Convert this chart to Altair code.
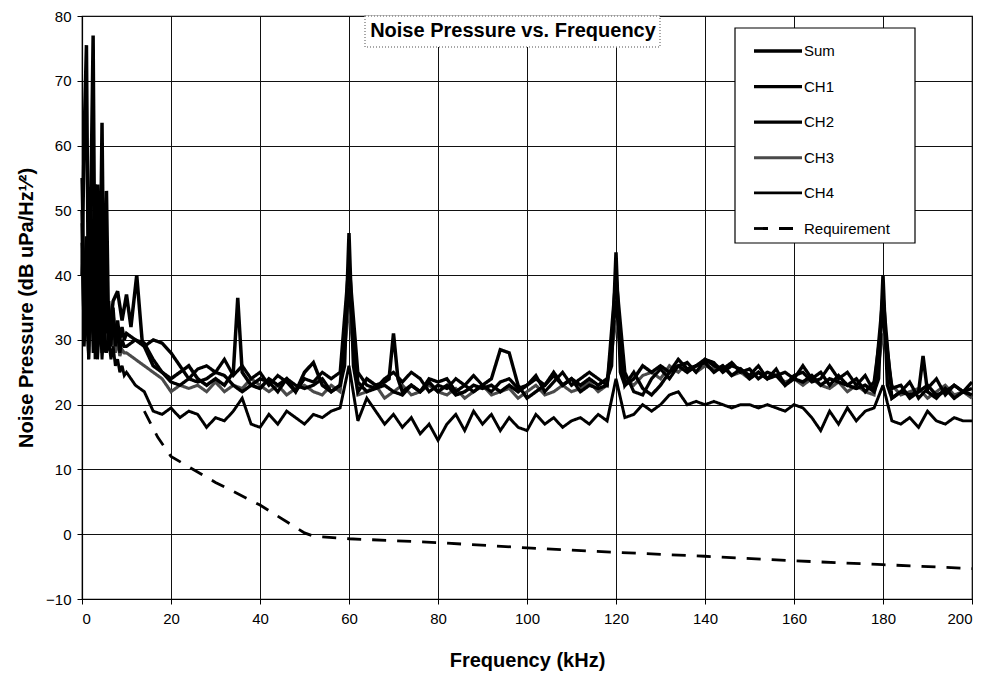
import altair as alt
import pandas as pd

SERIES = ["Sum", "CH1", "CH2", "CH3", "CH4", "Requirement"]

# Frequency grids (kHz)
LOW_F = [0, 0.5, 1, 1.5, 2, 2.5, 3, 3.5, 4, 4.5, 5, 5.5, 6, 6.5, 7, 7.5, 8, 8.5, 9, 9.5]
MAIN_F = list(range(10, 201, 2))

# Channel values (dB): low band 0..9.5 kHz, then 10..200 kHz every 2 kHz
CH1_LOW = [50, 30, 46, 28, 52, 33, 48, 29, 50, 35, 44, 31, 36, 30, 34, 29, 33, 30, 32, 30]
CH1 = [31, 30, 29, 30, 29.5, 28, 26, 24,
       23.5, 24, 25, 24.5, 23, 22, 23, 24, 23.5, 22,
       24, 23, 22.5, 23, 24, 22, 23, 38, 23.5, 22,
       22.5, 23, 22, 21.5, 23, 22, 24, 23.5, 24, 22,
       23, 22, 23, 24, 28.5, 28, 23, 21, 22, 23,
       25, 23, 24, 22, 23, 22.5, 23, 36, 23, 25,
       22.5, 21.5, 23, 25, 27, 25.5, 26, 27, 26, 25.5,
       26.5, 25, 25.5, 24, 25, 24.5, 25, 24, 26, 24,
       25, 23, 24.5, 23, 24, 22, 23.5, 34, 22.5, 23,
       21, 22, 23, 21.5, 22, 23, 22, 22.5]

CH2_LOW = [55, 35, 42, 27, 47, 31, 54, 30, 45, 28, 40, 32, 33, 29, 35, 30, 31, 28, 30, 29]
CH2 = [29, 30, 29.5, 27, 25, 23.5, 23, 24,
       25.5, 26, 25, 27, 24.5, 26, 24, 25, 23, 24.5,
       23.5, 22, 24, 23.5, 25, 24, 25, 42, 25, 23,
       22.5, 24, 25, 23.5, 25, 24, 22, 23, 22.5, 24,
       23, 24.5, 23, 22, 23.5, 24, 22.5, 23, 24.5, 22,
       23.5, 25, 23, 24, 25, 24, 23, 40, 25, 22,
       21.5, 24, 25.5, 24, 26, 26.5, 25, 27, 26.5, 25,
       26, 25.5, 24.5, 26, 24, 25.5, 23, 24.5, 25, 23.5,
       24, 26, 24, 25, 23, 24.5, 22, 37, 21, 22,
       23.5, 21, 22.5, 24, 21.5, 23, 22, 23.5]

CH3_LOW = [48, 33, 38, 29, 44, 30, 41, 28, 39, 31, 36, 30, 32, 29, 31, 28, 30, 27.5, 28.5, 28]
CH3 = [28, 27, 26, 25, 24, 22, 23, 22.5,
       23, 22, 23.5, 22, 23, 22.5, 24, 23, 22, 23,
       21.5, 22.5, 23, 22, 21.5, 23, 22, 35, 21.5, 22,
       23, 21, 22, 23, 21.5, 22, 23, 22, 21.5, 22.5,
       21, 22, 23, 21.5, 22, 22.5, 21, 22, 23, 21.5,
       22, 23, 22, 22.5, 23.5, 22, 23, 33, 24, 23,
       24.5, 25, 24, 26, 25, 26.5, 25, 26, 25.5, 26,
       24.5, 25, 24, 25, 24, 24.5, 23.5, 24, 23, 24,
       23, 22.5, 23.5, 22, 23, 22, 21.5, 31, 23, 21.5,
       22, 22.5, 21, 22, 23, 21.5, 22, 21]

CH4_LOW = [45, 29, 36, 27, 40, 28, 37, 27, 34, 27, 32, 28, 30, 27, 29, 26, 27, 25, 26, 24.5]
CH4 = [25, 23, 22, 19, 18.5, 19.5, 18, 19,
       18.5, 16.5, 18, 17.5, 19, 21, 17, 16.5, 18.5, 17,
       19, 18, 17, 18.5, 18, 19, 19.5, 26, 17.5, 21,
       19, 17, 18.5, 16.5, 18, 15.5, 17, 14.5, 17, 18.5,
       16, 19, 17, 18.5, 16, 18, 16.5, 16, 18.5, 17,
       18, 16.5, 17.5, 18, 17, 18.5, 17.5, 24, 18, 18.5,
       20, 19, 20, 21.5, 22, 20, 20.5, 20, 20.5, 20,
       19.5, 20, 20, 19.5, 20, 19.5, 19, 20, 19.5, 18,
       16, 19, 17, 19.5, 17.5, 19, 19.5, 23, 17.5, 17,
       18, 16.5, 19, 17.5, 17, 18, 17.5, 17.5]

SUM_F = [0, 0.5, 1, 1.5, 2, 2.5, 3, 3.5, 4, 4.5, 5, 5.5,
         6, 7, 8, 9, 10, 11, 12.3, 13.5, 14, 16, 18, 20,
         22, 24, 26, 28, 30, 32, 34, 35, 36,
         38, 40, 42, 44, 46, 48, 50, 52, 54, 56, 58, 59, 60, 61,
         62, 64, 66, 68, 69, 70, 71,
         72, 74, 76, 78, 80, 82, 84, 86, 88, 90, 92, 94, 96, 98, 100,
         102, 104, 106, 108, 110, 112, 114, 116, 118, 119, 120, 121,
         122, 124, 126, 128, 130, 132, 134, 136, 138, 140, 142, 144, 146, 148, 150,
         152, 154, 156, 158, 160, 162, 164, 166, 168, 170, 172, 174, 176, 178,
         179, 180, 181, 182, 184, 186, 188, 189, 190, 192, 194, 196, 198, 200]
SUM_V = [40, 62, 75.5, 30, 52, 77, 27, 54, 35, 63.5, 28, 53,
         30, 36, 37.5, 33, 37, 32, 40, 30, 29, 26, 25, 24,
         25, 26, 24, 23, 24, 23, 25, 36.5, 25,
         23, 22.5, 24, 23, 24, 22, 25, 26.5, 23, 22, 23, 26, 46.5, 26,
         22, 24, 23, 23.5, 24, 31, 24,
         22, 23, 22, 23.5, 22, 23, 21.5, 22, 23, 22.5, 23, 22, 23, 22, 23,
         24, 23, 24.5, 23, 24, 23, 24, 23, 24, 26, 43.5, 25,
         23, 24, 26, 25, 26, 25, 26, 25, 26, 26.5, 25, 26, 24.5, 25.5, 24,
         25, 24, 24.5, 23, 24, 23.5, 24.5, 23, 24, 23.5, 23, 22.5, 23, 22,
         24, 40, 23, 21, 22, 21.5, 22, 27.5, 22, 21, 22.5, 21, 22, 21.5]

REQ_F = [14, 17, 20, 30, 40, 50, 52, 60, 80, 100, 120, 140, 160, 180, 200]
REQ_V = [19, 15, 12, 8, 4.5, 0.2, -0.3, -0.7, -1.3, -2.1, -2.8, -3.4, -4.1, -4.7, -5.3]

rows = []
def add(name, fs, vs):
    assert len(fs) == len(vs), (name, len(fs), len(vs))
    for f, v in zip(fs, vs):
        rows.append({"series": name, "freq": f, "db": v})

add("Requirement", REQ_F, REQ_V)
add("CH3", LOW_F + MAIN_F, CH3_LOW + CH3)
add("CH4", LOW_F + MAIN_F, CH4_LOW + CH4)
add("CH2", LOW_F + MAIN_F, CH2_LOW + CH2)
add("CH1", LOW_F + MAIN_F, CH1_LOW + CH1)
add("Sum", SUM_F, SUM_V)
df = pd.DataFrame(rows)

FONT = "Liberation Sans"

leg = alt.Legend(
    orient="none", legendX=670, legendY=9, title=None,
    symbolType="stroke", symbolSize=2304, labelFontSize=15, labelFont=FONT,
    labelColor="black", labelOffset=0, rowPadding=1.6, padding=0,
    labelLimit=200,
)

lines = alt.Chart(df).mark_line(strokeJoin="miter", strokeMiterLimit=3).encode(
    x=alt.X("freq:Q", scale=alt.Scale(domain=[0, 200], nice=False),
            axis=alt.Axis(values=list(range(0, 201, 20)), title="Frequency (kHz)")),
    y=alt.Y("db:Q", scale=alt.Scale(domain=[-10, 80], nice=False),
            axis=alt.Axis(values=list(range(-10, 81, 10)),
                          title="Noise Pressure (dB uPa/Hz\u00b9\u2044\u00b2)")),
    color=alt.Color("series:N", scale=alt.Scale(domain=SERIES,
                    range=["#000000", "#000000", "#000000", "#4a4a4a", "#000000", "#000000"]),
                    legend=leg),
    strokeWidth=alt.StrokeWidth("series:N", scale=alt.Scale(domain=SERIES,
                    range=[3.5, 2.8, 3.2, 1.3, 2.9, 2.2]), legend=leg),
    strokeDash=alt.StrokeDash("series:N", scale=alt.Scale(domain=SERIES,
                    range=[[1, 0], [1, 0], [1, 0], [1, 0], [1, 0], [14, 11]]), legend=leg),
    detail="series:N",
)

one = alt.Data(values=[{"t": 1}])
legend_box = alt.Chart(one).mark_rect(fill="white", stroke="black", strokeWidth=1.2).encode(
    x=alt.value(653), x2=alt.value(833), y=alt.value(12), y2=alt.value(227))
title_box = alt.Chart(one).mark_rect(fill="white", stroke="#8a8a8a",
                                      strokeDash=[1, 2], strokeWidth=1.5).encode(
    x=alt.value(283), x2=alt.value(578), y=alt.value(0), y2=alt.value(31))
title_txt = alt.Chart(one).mark_text(font=FONT, fontSize=20, fontWeight="bold",
                                      color="black", align="center", baseline="middle").encode(
    x=alt.value(431), y=alt.value(15), text=alt.value("Noise Pressure vs. Frequency"))

chart = alt.layer(legend_box, title_box, lines, title_txt).properties(
    width=890, height=583,
    padding={"left": 74, "top": 8, "right": 7, "bottom": 75},
    autosize=alt.AutoSizeParams(type="none"),
    background="white",
).configure_view(stroke="black", strokeWidth=1.2).configure_axis(
    grid=True, gridColor="#111111", gridWidth=1, gridOpacity=1,
    domainColor="black", domainWidth=1.2, tickColor="black", tickSize=5,
    labelFont=FONT, labelFontSize=15, labelColor="black",
    titleFont=FONT, titleFontSize=20, titleFontWeight="bold", titleColor="black",
).configure_axisX(labelPadding=7, titlePadding=24).configure_axisY(
    labelPadding=6, titlePadding=9)

chart.save("out.html", embed_options={"renderer": "svg", "actions": False})
